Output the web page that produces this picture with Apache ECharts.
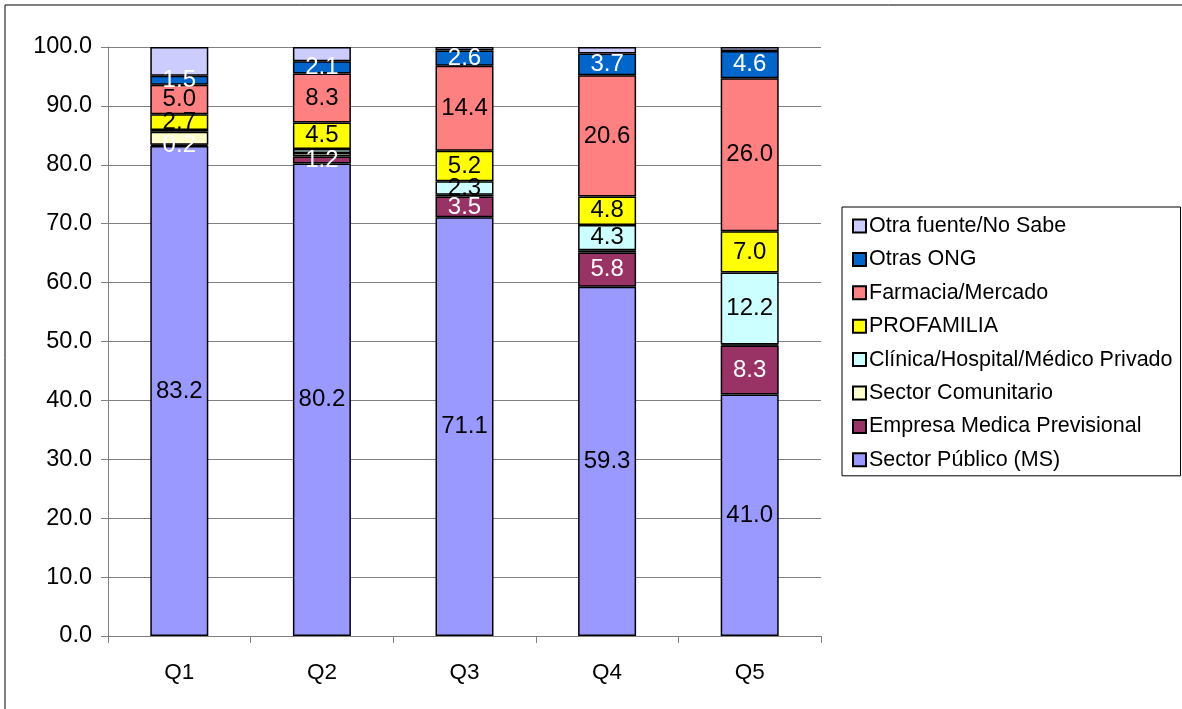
<!DOCTYPE html>
<html>
<head>
<meta charset="utf-8">
<script src="https://cdn.jsdelivr.net/npm/echarts@6/dist/echarts.min.js"></script>
<style>
  html, body { margin: 0; padding: 0; background: #fff; }
  #chart { width: 1182px; height: 709px; }
</style>
</head>
<body>
<div id="chart"></div>
<script>
// categories (quintiles)
var quintiles = ['Q1', 'Q2', 'Q3', 'Q4', 'Q5'];

// series values, bottom to top of the stack
var sectorPublico   = [83.2, 80.2, 71.1, 59.3, 41.0];
var empresaMedica   = [0.2, 1.2, 3.5, 5.8, 8.3];
var sectorComunit   = [2.2, 0.6, 0.3, 0.4, 0.2];
var clinicaPrivada  = [0.3, 0.7, 2.3, 4.3, 12.2];
var profamilia      = [2.7, 4.5, 5.2, 4.8, 7.0];
var farmacia        = [5.0, 8.3, 14.4, 20.6, 26.0];
var otrasOng        = [1.5, 2.1, 2.6, 3.7, 4.6];
var otraFuente      = [4.9, 2.4, 0.6, 1.1, 0.7];

// which values carry a label in the original
var clinicaLabeled  = [false, false, true, true, true];

var yTicks = [0, 10, 20, 30, 40, 50, 60, 70, 80, 90, 100];

var FONT = 'Liberation Sans, Arial, sans-serif';

function mkSeries(name, values, color, labelColor, showLabel) {
    return {
        name: name,
        type: 'bar',
        stack: 'total',
        barWidth: 58,
        itemStyle: { color: color, borderColor: '#000', borderWidth: 1.5 },
        label: {
            show: true,
            position: 'inside',
            color: labelColor,
            fontFamily: FONT,
            fontSize: 24,
            formatter: function (p) { return p.value.toFixed(1); }
        },
        data: values.map(function (v, i) {
            var show = Array.isArray(showLabel) ? showLabel[i] : showLabel;
            return show ? v : { value: v, label: { show: false } };
        })
    };
}

var chart = echarts.init(document.getElementById('chart'));
chart.setOption({
    backgroundColor: '#fff',
    animation: false,
    graphic: [{
        type: 'rect',
        shape: { x: 5, y: 5, width: 1300, height: 800 },
        style: { fill: 'none', stroke: '#000', lineWidth: 1 },
        z: -1
    }],
    grid: { left: 108, right: 361, top: 47, bottom: 73 },
    legend: {
        orient: 'vertical',
        left: 842,
        top: 207,
        padding: [8, 8, 5, 10],
        itemGap: 11.4,
        itemWidth: 13,
        itemHeight: 13,
        borderColor: '#000',
        borderWidth: 1,
        icon: 'rect',
        itemStyle: { borderColor: '#000', borderWidth: 2 },
        textStyle: { fontFamily: FONT, fontSize: 21.5, color: '#000', padding: [0, 0, 0, -2] },
        data: [
            'Otra fuente/No Sabe', 'Otras ONG', 'Farmacia/Mercado', 'PROFAMILIA',
            'Clínica/Hospital/Médico Privado', 'Sector Comunitario',
            'Empresa Medica Previsional', 'Sector Público (MS)'
        ]
    },
    xAxis: {
        type: 'category',
        data: quintiles,
        axisLine: { lineStyle: { color: '#808080', width: 1 } },
        axisTick: { show: true, length: 7, lineStyle: { color: '#808080' } },
        axisLabel: { color: '#000', fontFamily: FONT, fontSize: 22.5, margin: 25 }
    },
    yAxis: {
        type: 'value',
        min: yTicks[0],
        max: yTicks[yTicks.length - 1],
        interval: 10,
        axisLine: { show: true, lineStyle: { color: '#808080', width: 1 } },
        axisTick: { show: true, length: 7, lineStyle: { color: '#808080' } },
        splitLine: { lineStyle: { color: '#808080', width: 1 } },
        axisLabel: {
            color: '#000', fontFamily: FONT, fontSize: 23.5, margin: 16,
            formatter: function (v) { return v.toFixed(1); }
        }
    },
    series: [
        mkSeries('Sector Público (MS)', sectorPublico, '#9999FF', '#000', true),
        mkSeries('Empresa Medica Previsional', empresaMedica, '#993366', '#fff', true),
        mkSeries('Sector Comunitario', sectorComunit, '#FFFFCC', '#000', false),
        mkSeries('Clínica/Hospital/Médico Privado', clinicaPrivada, '#CCFFFF', '#000', clinicaLabeled),
        mkSeries('PROFAMILIA', profamilia, '#FFFF00', '#000', true),
        mkSeries('Farmacia/Mercado', farmacia, '#FF8080', '#000', true),
        mkSeries('Otras ONG', otrasOng, '#0066CC', '#fff', true),
        mkSeries('Otra fuente/No Sabe', otraFuente, '#CCCCFF', '#000', false)
    ]
});
</script>
</body>
</html>
